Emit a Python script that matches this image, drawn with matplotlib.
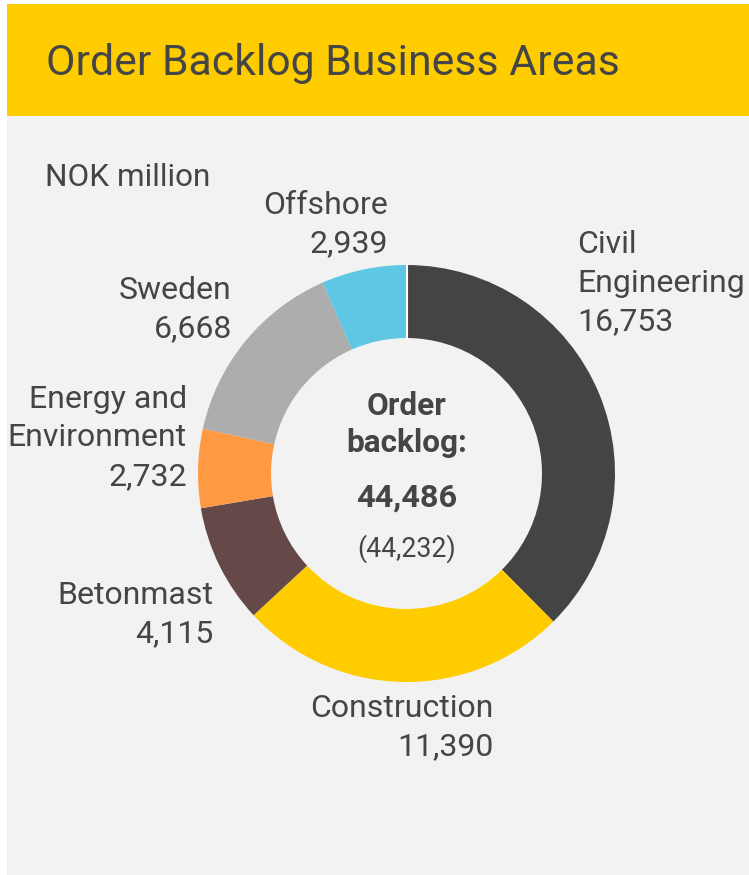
import matplotlib.pyplot as plt
from matplotlib.patches import Rectangle

plt.rcParams['font.family'] = ['Roboto', 'DejaVu Sans']

# data
areas = ['Civil Engineering', 'Construction', 'Betonmast',
         'Energy and Environment', 'Sweden', 'Offshore']
backlog = [16753, 11390, 4115, 2732, 6668, 2939]
label_lines = [['Civil', 'Engineering', '16,753'],
               ['Construction', '11,390'],
               ['Betonmast', '4,115'],
               ['Energy and', 'Environment', '2,732'],
               ['Sweden', '6,668'],
               ['Offshore', '2,939']]
total_text = '44,486'
prev_total_text = '(44,232)'
title = 'Order Backlog Business Areas'
unit = 'NOK million'

colors = ['#444444', '#FFCC00', '#654848', '#FF9944', '#ADADAD', '#5DC7E4']
text_col = '#454545'

# layout in pixel units (y grows downward)
W, H = 749, 875
cx, cy, r_out, ring = 406.5, 473.5, 208.5, 73
line_h = 38.5
label_pos = [(577, 253, 'left'), (494, 717, 'right'), (213, 604, 'right'),
             (187, 408, 'right'), (232, 299, 'right'), (388, 214, 'right')]

fig = plt.figure(figsize=(W / 100, H / 100), dpi=100)
fig.patch.set_facecolor('white')
ax = fig.add_axes([0, 0, 1, 1])

ax.add_patch(Rectangle((7, 116), 742, 759, facecolor='#F2F2F2', edgecolor='none', zorder=0))
ax.add_patch(Rectangle((7, 4), 742, 112, facecolor='#FFCC00', edgecolor='none', zorder=0))

ax.pie(backlog, colors=colors, startangle=-90, counterclock=True,
       radius=r_out, center=(cx, cy),
       wedgeprops=dict(width=ring, edgecolor='none', linewidth=0))
# thin white gap where the ring starts (top)
ax.plot([cx, cx], [cy - r_out - 1, cy - r_out + ring + 1], color='white', lw=1.5, zorder=3)

ax.set_xlim(0, W)
ax.set_ylim(H, 0)
ax.set_aspect('equal')
ax.axis('off')

ax.text(46, 75, title, fontsize=30.8, color=text_col, va='baseline', ha='left')
ax.text(45, 186, unit, fontsize=22.7, color=text_col, va='baseline', ha='left')

for lines, (x, y, ha) in zip(label_lines, label_pos):
    for i, s in enumerate(lines):
        ax.text(x, y + i * line_h, s, fontsize=23, color=text_col,
                va='baseline', ha=ha)

ax.text(cx, 415, 'Order', fontsize=22.7, fontweight='bold', color=text_col,
        ha='center', va='baseline')
ax.text(cx, 452, 'backlog:', fontsize=22.7, fontweight='bold', color=text_col,
        ha='center', va='baseline')
ax.text(cx, 507, total_text, fontsize=23.4, fontweight='bold', color=text_col,
        ha='center', va='baseline')
ax.text(cx, 557, prev_total_text, fontsize=19.2, color=text_col,
        ha='center', va='baseline')

fig.savefig('out.png', dpi=100, facecolor='white')
